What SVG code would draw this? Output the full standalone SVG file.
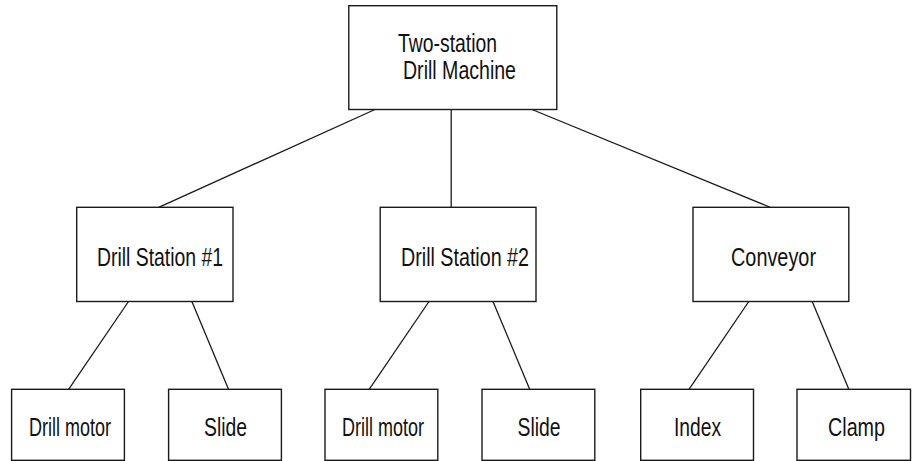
<svg xmlns="http://www.w3.org/2000/svg" width="912" height="461" viewBox="0 0 912 461">
  <style>
    .box { fill: #fff; stroke: #1a1a1a; stroke-width: 1.4; }
    .link { stroke: #1a1a1a; stroke-width: 1.3; fill: none; }
    .lbl { font-family: "Liberation Sans", Arial, sans-serif; font-size: 25px; fill: #111; }
  </style>
  <rect width="912" height="461" fill="#fff"/>

  <!-- tree connectors -->
  <g id="connectors">
    <line class="link" x1="375" y1="109.5" x2="158.7" y2="207.3"/>
    <line class="link" x1="451.2" y1="109.5" x2="451.2" y2="207.3"/>
    <line class="link" x1="532" y1="109.5" x2="770.3" y2="207.3"/>
    <line class="link" x1="128.5" y1="301.5" x2="68.6" y2="389.3"/>
    <line class="link" x1="191.9" y1="301.5" x2="228.5" y2="389.3"/>
    <line class="link" x1="429" y1="301.5" x2="369.2" y2="389.3"/>
    <line class="link" x1="493" y1="301.5" x2="529.7" y2="389.3"/>
    <line class="link" x1="748.8" y1="301.5" x2="689" y2="389.3"/>
    <line class="link" x1="812.2" y1="301.5" x2="848.8" y2="389.3"/>
  </g>

  <!-- root -->
  <g id="machine">
    <rect class="box" x="348.8" y="5.7" width="208" height="103.8"/>
    <text class="lbl" x="398" y="52" textLength="99" lengthAdjust="spacingAndGlyphs">Two-station</text>
    <text class="lbl" x="403" y="79" textLength="113" lengthAdjust="spacingAndGlyphs">Drill Machine</text>
  </g>

  <!-- second level -->
  <g id="station1">
    <rect class="box" x="76.7" y="207.3" width="156.3" height="94.2"/>
    <text class="lbl" x="97" y="266" textLength="126" lengthAdjust="spacingAndGlyphs">Drill Station #1</text>
  </g>
  <g id="station2">
    <rect class="box" x="380.2" y="207.3" width="155.8" height="94.2"/>
    <text class="lbl" x="401" y="266" textLength="128" lengthAdjust="spacingAndGlyphs">Drill Station #2</text>
  </g>
  <g id="conveyor">
    <rect class="box" x="693" y="207.3" width="155.8" height="94.2"/>
    <text class="lbl" x="731" y="266" textLength="85" lengthAdjust="spacingAndGlyphs">Conveyor</text>
  </g>

  <!-- leaves -->
  <g id="motor1">
    <rect class="box" x="11.6" y="389.3" width="112.8" height="71"/>
    <text class="lbl" x="29" y="436" textLength="82" lengthAdjust="spacingAndGlyphs">Drill motor</text>
  </g>
  <g id="slide1">
    <rect class="box" x="168.6" y="389.3" width="112.8" height="71"/>
    <text class="lbl" x="204" y="436" textLength="43" lengthAdjust="spacingAndGlyphs">Slide</text>
  </g>
  <g id="motor2">
    <rect class="box" x="325" y="389.3" width="112.8" height="71"/>
    <text class="lbl" x="342" y="436" textLength="82" lengthAdjust="spacingAndGlyphs">Drill motor</text>
  </g>
  <g id="slide2">
    <rect class="box" x="482" y="389.3" width="112.8" height="71"/>
    <text class="lbl" x="517.5" y="436" textLength="43" lengthAdjust="spacingAndGlyphs">Slide</text>
  </g>
  <g id="index">
    <rect class="box" x="640.7" y="389.3" width="112.8" height="71"/>
    <text class="lbl" x="674" y="436" textLength="47" lengthAdjust="spacingAndGlyphs">Index</text>
  </g>
  <g id="clamp">
    <rect class="box" x="797" y="389.3" width="113.5" height="71"/>
    <text class="lbl" x="828" y="436" textLength="57" lengthAdjust="spacingAndGlyphs">Clamp</text>
  </g>
</svg>
